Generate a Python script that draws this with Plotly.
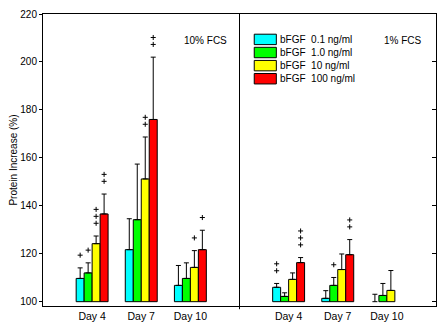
import plotly.graph_objects as go

# Groups: three time points at 10% FCS, then the same at 1% FCS
days = ["Day 4", "Day 7", "Day 10", "Day 4", "Day 7", "Day 10"]
positions = [1, 2, 3, 5, 6, 7]

series_names = ["bFGF  0.1 ng/ml", "bFGF  1.0 ng/ml", "bFGF  10 ng/ml", "bFGF  100 ng/ml"]
series_colors = ["#00FFFF", "#00FF00", "#FFFF00", "#FF0000"]

# Mean protein increase (%) per series and group
cyan_vals = [109.7, 121.7, 106.8, 106.0, 101.4, 100.0]
green_vals = [112.0, 134.2, 109.7, 102.2, 106.8, 102.6]
yellow_vals = [124.2, 151.2, 114.3, 109.3, 113.4, 104.7]
red_vals = [136.6, 176.0, 121.7, 116.3, 119.6, None]

# Upper end of the error bars
cyan_err = [114.1, 134.6, 115.1, 107.6, 104.6, 103.1]
green_err = [116.2, 157.4, 116.2, 103.7, 110.1, 107.6]
yellow_err = [127.4, 168.7, 121.3, 112.0, 119.9, 113.0]
red_err = [144.9, 202.0, 129.8, 118.4, 125.9, None]

# Number of significance marks (+) above each bar
cyan_sig = [1, 0, 0, 2, 0, 0]
green_sig = [1, 0, 0, 0, 1, 0]
yellow_sig = [3, 2, 1, 0, 0, 0]
red_sig = [2, 2, 1, 3, 2, 0]

values = [cyan_vals, green_vals, yellow_vals, red_vals]
errors = [cyan_err, green_err, yellow_err, red_err]
sigs = [cyan_sig, green_sig, yellow_sig, red_sig]

y_ticks = [100, 120, 140, 160, 180, 200, 220]
y_range = [98.2, 220]
base_value = 100

FONT = "Liberation Sans, Arial, sans-serif"
bar_w = 0.1625
plot_h_px = 294
units_per_px = (y_range[1] - y_range[0]) / plot_h_px

fig = go.Figure()

for i, (name, color) in enumerate(zip(series_names, series_colors)):
    vals = values[i]
    errs = errors[i]
    heights = [None if v is None else v - base_value for v in vals]
    err_up = [None if (v is None or e is None) else e - v for v, e in zip(vals, errs)]
    # no outline on bars of zero height
    outline = [0 if (h is None or h <= 0) else 1 for h in heights]
    offset = (i - 2) * bar_w
    fig.add_trace(go.Bar(
        x=positions, y=heights, base=base_value, name=name,
        width=bar_w, offset=offset,
        marker=dict(color=color, line=dict(color="black", width=outline)),
        error_y=dict(type="data", symmetric=False, array=err_up,
                     arrayminus=[0] * len(err_up), color="black",
                     thickness=1, width=2.5),
        showlegend=False,
    ))
    # significance marks stacked above the error bar
    px_, py_ = [], []
    for p, e, n in zip(positions, errs, sigs[i]):
        for k in range(n):
            px_.append(p + offset + bar_w / 2)
            py_.append(e + (12.8 + 7 * k) * units_per_px)
    if px_:
        fig.add_trace(go.Scatter(
            x=px_, y=py_, mode="markers", showlegend=False, hoverinfo="skip",
            marker=dict(symbol="cross-thin", size=3.6, line=dict(color="black", width=1)),
        ))

# Inward ticks on the right-hand axis
fig.add_trace(go.Scatter(x=[None], y=[None], yaxis="y2", showlegend=False))

# Panel divider between the two serum conditions
fig.add_shape(type="line", xref="x", yref="paper", x0=4, x1=4, y0=-0.011, y1=1,
              line=dict(color="black", width=1))

# Panel titles
fig.add_annotation(x=3.3, y=0.935, xref="x", yref="paper", text="10% FCS",
                   showarrow=False, font=dict(family=FONT, size=10, color="black"))
fig.add_annotation(x=7.32, y=0.935, xref="x", yref="paper", text="1% FCS",
                   showarrow=False, font=dict(family=FONT, size=10, color="black"))

# Legend: wide swatches with labels
leg_x0, leg_x1 = 4.30, 4.75
leg_y_top = 0.913
leg_step = 13.2 / plot_h_px
sw_h = 10.5 / plot_h_px
for i, (name, color) in enumerate(zip(series_names, series_colors)):
    yc = leg_y_top - i * leg_step
    fig.add_shape(type="rect", xref="x", yref="paper", x0=leg_x0, x1=leg_x1,
                  y0=yc - sw_h / 2, y1=yc + sw_h / 2,
                  fillcolor=color, line=dict(color="black", width=1))
    fig.add_annotation(x=leg_x1 + 0.03, y=yc, xref="x", yref="paper", text=name,
                       showarrow=False, xanchor="left", yanchor="middle",
                       font=dict(family=FONT, size=10, color="black"))

fig.update_layout(
    width=445, height=331,
    margin=dict(l=43, r=8, t=12, b=25),
    paper_bgcolor="white", plot_bgcolor="white",
    barmode="overlay",
    font=dict(family=FONT, size=10, color="black"),
    xaxis=dict(range=[0, 8], tickvals=positions, ticktext=days, ticks="",
               showline=True, linecolor="black", linewidth=1, mirror=True,
               showgrid=False, zeroline=False, tickfont=dict(size=10.5)),
    yaxis=dict(range=y_range, tickvals=y_ticks, ticks="outside", ticklen=3,
               tickcolor="black", showline=True, linecolor="black", linewidth=1,
               mirror=True, showgrid=False, zeroline=False,
               title=dict(text="Protein Increase (%)", standoff=0,
                          font=dict(size=10))),
    yaxis2=dict(range=y_range, tickvals=y_ticks, overlaying="y", side="right",
                ticks="inside", ticklen=4, tickcolor="black", showticklabels=False,
                showline=False, showgrid=False, zeroline=False),
)

fig.write_html("out.html")
